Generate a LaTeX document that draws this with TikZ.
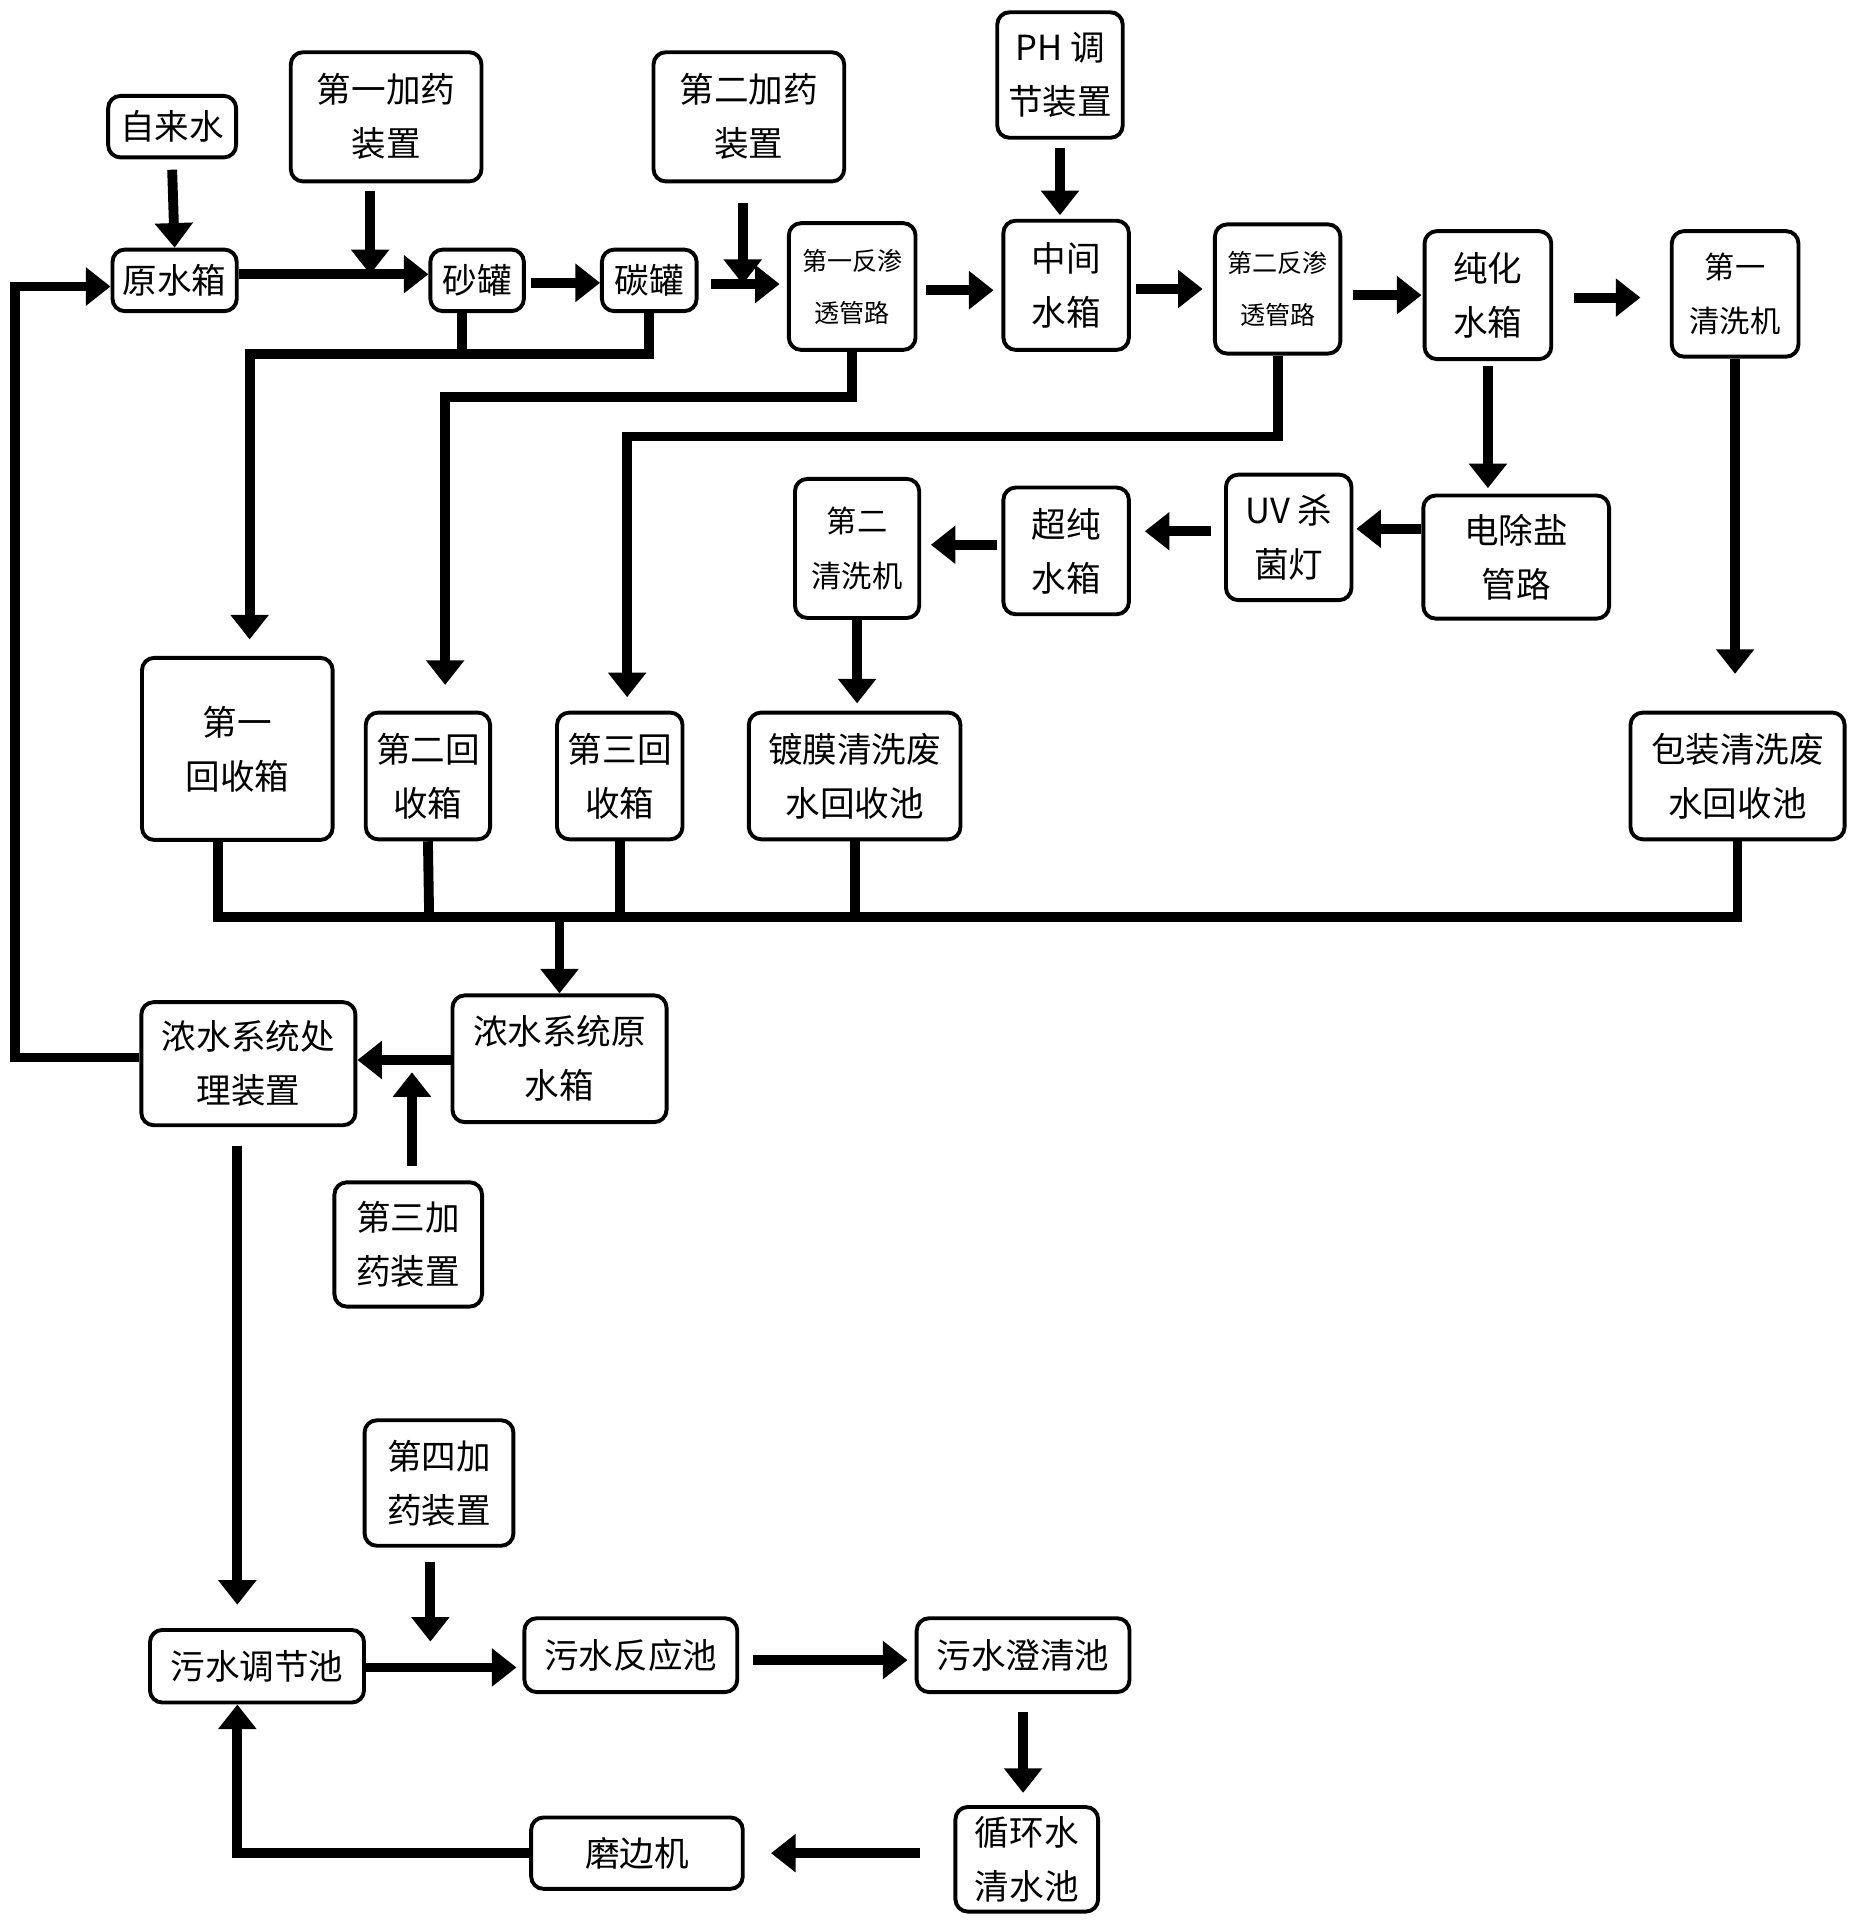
\documentclass[tikz,border=0pt]{standalone}
\usepackage{fontspec}
\setmainfont{Noto Sans CJK SC}
\usetikzlibrary{arrows.meta}
\begin{document}
\begin{tikzpicture}[x=0.01cm,y=-0.01cm,
 bx/.style={draw,line width=0.9pt,rounded corners=0.1cm,inner sep=0pt,align=center,font=\fontsize{8}{12.5}\selectfont},
 sm/.style={font=\fontsize{5.8}{12}\selectfont},
 md/.style={font=\fontsize{7}{12.5}\selectfont},
 ar/.style={line width=0.08cm,-{Triangle[length=0.2cm,width=0.3cm]}},
 ln/.style={line width=0.08cm}]
\useasboundingbox (0,0) rectangle (1505,1563);
\newcommand\B[6]{\node[bx,minimum width=#4*0.01cm,minimum height=#5*0.01cm,#6] (#1) at (#2,#3) {};}
\node[bx,minimum width=1.04cm,minimum height=0.5cm] (zls) at (140,103) {自来水};
\node[bx,minimum width=1.55cm,minimum height=1.05cm] (jy1) at (314,95) {第一加药\\装置};
\node[bx,minimum width=1.55cm,minimum height=1.05cm] (jy2) at (609,95) {第二加药\\装置};
\node[bx,minimum width=1.02cm,minimum height=1.02cm] (ph) at (862,61) {PH 调\\节装置};
\node[bx,minimum width=1.01cm,minimum height=0.5cm] (ysx) at (142,228) {原水箱};
\node[bx,minimum width=0.76cm,minimum height=0.5cm] (sg) at (388,228) {砂罐};
\node[bx,minimum width=0.77cm,minimum height=0.5cm] (tg) at (528,228) {碳罐};
\node[bx,sm,minimum width=1.03cm,minimum height=1.03cm] (fs1) at (693,233) {第一反渗\\透管路};
\node[bx,minimum width=1.02cm,minimum height=1.05cm] (zj) at (867,232) {中间\\水箱};
\node[bx,sm,minimum width=1.02cm,minimum height=1.05cm] (fs2) at (1039,235) {第二反渗\\透管路};
\node[bx,minimum width=1.03cm,minimum height=1.04cm] (chx) at (1210,240) {纯化\\水箱};
\node[bx,md,minimum width=1.03cm,minimum height=1.02cm] (qx1) at (1411,239) {第一\\清洗机};
\node[bx,minimum width=1.51cm,minimum height=1.0cm] (dcy) at (1233,453) {电除盐\\管路};
\node[bx,minimum width=1.02cm,minimum height=1.02cm] (uv) at (1048,437) {UV 杀\\菌灯};
\node[bx,minimum width=1.02cm,minimum height=1.03cm] (cc) at (867,448) {超纯\\水箱};
\node[bx,md,minimum width=1.01cm,minimum height=1.13cm] (qx2) at (697,446) {第二\\清洗机};
\node[bx,minimum width=1.55cm,minimum height=1.48cm] (hs1) at (193,609) {第一\\回收箱};
\node[bx,minimum width=1.01cm,minimum height=1.03cm] (hs2) at (348,631) {第二回\\收箱};
\node[bx,minimum width=1.02cm,minimum height=1.03cm] (hs3) at (504,631) {第三回\\收箱};
\node[bx,minimum width=1.72cm,minimum height=1.03cm] (dm) at (695,631) {镀膜清洗废\\水回收池};
\node[bx,minimum width=1.74cm,minimum height=1.03cm] (bz) at (1413,631) {包装清洗废\\水回收池};
\node[bx,minimum width=1.74cm,minimum height=1.03cm] (nsy) at (455,861) {浓水系统原\\水箱};
\node[bx,minimum width=1.74cm,minimum height=1.0cm] (nsc) at (202,865) {浓水系统处\\理装置};
\node[bx,minimum width=1.2cm,minimum height=1.01cm] (jy3) at (332,1012) {第三加\\药装置};
\node[bx,minimum width=1.21cm,minimum height=1.02cm] (jy4) at (357,1206) {第四加\\药装置};
\node[bx,minimum width=1.74cm,minimum height=0.59cm] (tj) at (209,1355) {污水调节池};
\node[bx,minimum width=1.73cm,minimum height=0.6cm] (fy) at (513,1346) {污水反应池};
\node[bx,minimum width=1.73cm,minimum height=0.6cm] (cq) at (832,1346) {污水澄清池};
\node[bx,minimum width=1.16cm,minimum height=0.85cm] (xh) at (835,1512) {循环水\\清水池};
\node[bx,minimum width=1.72cm,minimum height=0.58cm] (mb) at (518,1507) {磨边机};
% coordinates
\coordinate (j1) at (301,223);
\coordinate (j2) at (604,231);
\coordinate (ret) at (12,233);
% arrows
\draw[ar] (140,138) -- (ysx.north);
\draw[ar] (301,155) -- (j1);
\draw[ar] (ysx.east|-j1) -- (sg.west|-j1);
\draw[ar] (432,230) -- (488,230);
\draw[ar] (578,231) -- (634,231);
\draw[ar] (604,165) -- (j2);
\draw[ar] (753,236) -- (808,236);
\draw[ar] (924,235) -- (978,235);
\draw[ar] (1100,240) -- (1156,240);
\draw[ar] (1280,242) -- (1334,242);
\draw[ar] (862,120) -- (862,175);
\draw[ar] (1210,298) -- (1210,397);
\draw[ar] (dcy.west|-430,0) ++(0,430) -- (1103,430);
\draw[ar] (985,432) -- (931,432);
\draw[ar] (811,443) -- (757,443);
\draw[ar] (qx2.south) -- (697,572);
\draw[ar] (qx1.south) -- (1411,548);
\draw[ln] (376,253) -- (376,288);
\draw[ar] (528,253) -- (528,288) -- (203,288) -- (203,520);
\draw[ar] (fs1.south) -- (693,323) -- (362,323) -- (362,557);
\draw[ar] (fs2.south) -- (1039,355) -- (510,355) -- (510,567);
\draw[ln] (177,683) -- (177,746) -- (1413,746) -- (bz.south);
\draw[ln] (hs2.south) -- (349,746);
\draw[ln] (hs3.south) -- (504,746);
\draw[ln] (dm.south) -- (695,746);
\draw[ar] (455,746) -- (nsy.north);
\draw[ar] (nsy.west|-0,862) -- (nsc.east|-0,862);
\draw[ar] (335,948) -- (335,872);
\draw[ar] (nsc.west|-0,860) -- (12,860) -- (ret) -- (ysx.west|-ret);
\draw[ar] (193,932) -- (193,1305);
\draw[ar] (350,1270) -- (350,1335);
\draw[ar] (tj.east|-0,1356) -- (420,1356);
\draw[ar] (612,1350) -- (738,1350);
\draw[ar] (832,1392) -- (832,1458);
\draw[ar] (748,1507) -- (627,1507);
\draw[ar] (mb.west) -- (193,1507) -- (tj.south-|193,0);
\end{tikzpicture}
\end{document}
